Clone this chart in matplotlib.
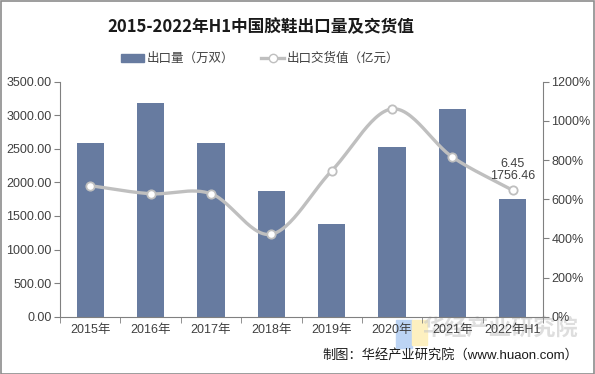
import numpy as np
import matplotlib.pyplot as plt
from matplotlib.patches import Rectangle
from matplotlib.lines import Line2D
from matplotlib.ticker import FuncFormatter

plt.rcParams['font.family'] = ['Liberation Sans', 'Noto Sans CJK SC', 'DejaVu Sans']

years = ['2015年', '2016年', '2017年', '2018年', '2019年', '2020年', '2021年', '2022年H1']
qty = [2585, 3180, 2585, 1865, 1380, 2525, 3090, 1756.46]     # 出口量（万双）
value = [6.69, 6.28, 6.28, 4.21, 7.45, 10.61, 8.15, 6.45]      # 出口交货值（亿元）

BAR = '#677ba0'
LINE = '#bfbfbf'
TXT = '#404040'


def smooth(xs, ys, n=30):
    # catmull-rom style curve through the points, like excel's smoothed line
    xs = np.asarray(xs, float)
    ys = np.asarray(ys, float)
    px = np.concatenate([[2 * xs[0] - xs[1]], xs, [2 * xs[-1] - xs[-2]]])
    py = np.concatenate([[2 * ys[0] - ys[1]], ys, [2 * ys[-1] - ys[-2]]])
    ox, oy = [], []
    t = np.linspace(0, 1, n)
    for i in range(1, len(px) - 2):
        p0, p1, p2, p3 = py[i - 1], py[i], py[i + 1], py[i + 2]
        q0, q1, q2, q3 = px[i - 1], px[i], px[i + 1], px[i + 2]
        # bezier control points
        c1y = p1 + (p2 - p0) / 6
        c2y = p2 - (p3 - p1) / 6
        c1x = q1 + (q2 - q0) / 6
        c2x = q2 - (q3 - q1) / 6
        b = lambda a, b_, c, d: ((1 - t) ** 3 * a + 3 * (1 - t) ** 2 * t * b_
                                 + 3 * (1 - t) * t ** 2 * c + t ** 3 * d)
        ox.extend(b(q1, c1x, c2x, q2))
        oy.extend(b(p1, c1y, c2y, p2))
    return np.array(ox), np.array(oy)


fig = plt.figure(figsize=(5.95, 3.74), dpi=100)
fig.patches.append(Rectangle((0.5 / 595, 0.5 / 374), 593.5 / 595, 372.5 / 374,
                             transform=fig.transFigure, fill=False,
                             edgecolor='#8c8c8c', linewidth=1.2))

# faint logo blocks of the watermark
fig.patches.append(Rectangle((396 / 595, 1 - 348 / 374), 16 / 595, 28 / 374,
                             transform=fig.transFigure, color='#bcd4f4', zorder=-2))
fig.patches.append(Rectangle((412 / 595, 1 - 345 / 374), 15 / 595, 25 / 374,
                             transform=fig.transFigure, color='#fdf0c0', zorder=-2))

ax = fig.add_axes([60 / 595, 1 - 316.7 / 374, (543 - 60) / 595, (316.7 - 81.7) / 374])
ax.patch.set_alpha(0)
x = np.arange(len(years))
ax.bar(x, qty, width=0.45, color=BAR, zorder=2)
ax.set_xlim(-0.5, len(years) - 0.5)
ax.set_ylim(0, 3500)
ax.set_yticks(np.arange(0, 3501, 500))
ax.yaxis.set_major_formatter(FuncFormatter(lambda v, p: f'{v:.2f}'))
ax.set_xticks(x)
ax.set_xticklabels(years)
ax.set_xticks(np.arange(-0.5, len(years)), minor=True)
ax.tick_params(axis='x', which='major', length=0, labelsize=9, colors=TXT, pad=5)
ax.tick_params(axis='x', which='minor', length=4, color='#808080')
ax.tick_params(axis='y', length=4, color='#808080', labelsize=9, labelcolor=TXT, pad=2)
for s in ['top', 'right']:
    ax.spines[s].set_visible(False)
for s in ['left', 'bottom']:
    ax.spines[s].set_color('#808080')

ax2 = ax.twinx()
ax2.set_ylim(0, 12)
ax2.set_yticks(np.arange(0, 12.1, 2))
ax2.yaxis.set_major_formatter(FuncFormatter(lambda v, p: f'{v * 100:.0f}%'))
ax2.tick_params(axis='y', length=4, color='#808080', labelsize=9, labelcolor=TXT, pad=2)
for s in ['top', 'left', 'bottom']:
    ax2.spines[s].set_visible(False)
ax2.spines['right'].set_color('#808080')

sx, sy = smooth(x, value)
ax2.plot(sx, sy, color=LINE, lw=2.4, zorder=3, solid_capstyle='round')
ax2.plot(x, value, 'o', ms=6, mfc='white', mec=LINE, mew=1.3, zorder=4)

ax2.annotate(f'{value[-1]:.2f}\n{qty[-1]:.2f}', (x[-1], value[-1]),
             xytext=(0, 6), textcoords='offset points', ha='center', va='bottom',
             fontsize=9, color=TXT, linespacing=1.0)

fig.text(261 / 595, 1 - 27 / 374, '2015-2022年H1中国胶鞋出口量及交货值', ha='center', va='center',
         fontsize=12, fontweight='bold', color='#1a1a1a',
         family=['Noto Sans CJK SC', 'DejaVu Sans'])

handles = [Rectangle((0, 0), 1, 1, color=BAR),
           Line2D([], [], color=LINE, lw=2.4, marker='o', ms=6, mfc='white', mec=LINE)]
fig.legend(handles, ['出口量（万双）', '出口交货值（亿元）'], loc='center',
           bbox_to_anchor=(260 / 595, 1 - 59 / 374), ncol=2, frameon=False, fontsize=9,
           handlelength=1.8, handleheight=0.6, columnspacing=2.2, handletextpad=0.2,
           labelcolor=TXT)

fig.text(578 / 595, 1 - 355 / 374, '制图：华经产业研究院（www.huaon.com）', ha='right',
         va='center', fontsize=9.5, color='#1a1a1a')
fig.text(578 / 595, 1 - 329 / 374, '华经产业研究院', ha='right', va='center',
         fontsize=16, color='#c8c8c8', alpha=0.6, fontweight='bold', zorder=-1)

fig.savefig('out.png', dpi=100)
